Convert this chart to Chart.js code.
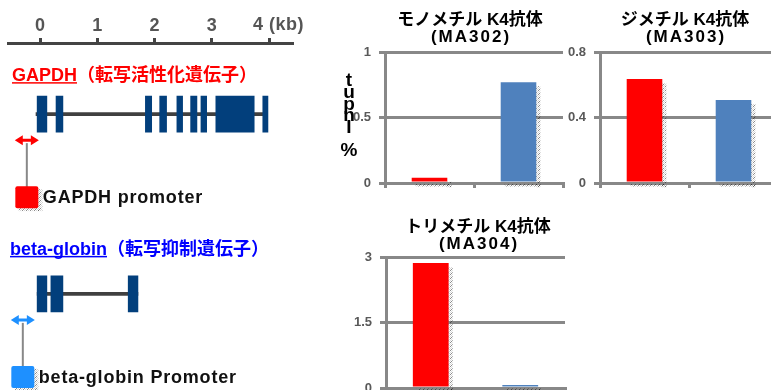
<!DOCTYPE html>
<html>
<head>
<meta charset="utf-8">
<script src="https://cdn.jsdelivr.net/npm/chart.js@4.4.1/dist/chart.umd.min.js"></script>
<style>
  html, body { margin: 0; padding: 0; background: #fff; }
  #stage { position: relative; width: 771px; height: 390px; overflow: hidden; background: #fff; }
  canvas { position: absolute; }
</style>
</head>
<body>
<div id="stage">
  <canvas id="geneMap" width="330" height="390" style="left:0;top:0"></canvas>
  <canvas id="monoChart" width="260" height="200" style="left:340px;top:0"></canvas>
  <canvas id="diChart" width="260" height="200" style="left:555px;top:0"></canvas>
  <canvas id="triChart" width="276" height="205" style="left:340px;top:200px"></canvas>
</div>
<script>
// ---- data ----
const kbTicks = [0, 1, 2, 3, 4];
const gapdhSpan = [-0.07, 3.91];
const gapdhExons = [[-0.05, 0.12], [0.28, 0.40], [1.84, 1.95], [2.09, 2.21], [2.39, 2.49],
                    [2.63, 2.74], [2.81, 2.91], [3.07, 3.74], [3.89, 3.98]];
const gapdhPromoter = [-0.44, -0.02];
const betaSpan = [-0.05, 1.71];
const betaExons = [[-0.05, 0.12], [0.19, 0.40], [1.54, 1.71]];
const betaPromoter = [-0.51, -0.09];

const categories = ['GAPDH promoter', 'beta-globin Promoter'];
const monoValues = [0.04, 0.77];
const diValues = [0.635, 0.507];
const triValues = [2.86, 0.07];
const yAxisTitle = 'Input %';

// ---- look ----
const FONT = '"Liberation Sans", "Noto Sans CJK JP", sans-serif';
const RED = '#FF0000';
const BLUE_BAR = '#4F81BD';
const AXIS_GRAY = '#888888';
const EXON = '#023F7C';

function makeShadowPattern(ctx) {
    const c = document.createElement('canvas');
    c.width = 4; c.height = 4;
    const p = c.getContext('2d');
    p.fillStyle = 'rgba(0,0,0,0.45)';
    p.fillRect(0, 0, 1, 1); p.fillRect(2, 2, 1, 1); p.fillRect(3, 1, 1, 1);
    p.fillStyle = 'rgba(140,140,140,0.35)';
    p.fillRect(2, 0, 1, 1); p.fillRect(1, 1, 1, 1); p.fillRect(0, 2, 1, 1); p.fillRect(1, 3, 1, 1); p.fillRect(3, 3, 1, 1);
    return ctx.createPattern(c, 'repeat');
}

// 1. GENE MAP (floating bars on a kb scale)
const genes = [
    { row: 0.205, exons: gapdhExons, span: gapdhSpan, promoter: gapdhPromoter, color: RED,
      name: 'GAPDH', note: '（転写活性化遺伝子）', nameColor: RED, labelX: 12, labelDy: -38,
      promoterLabel: categories[0] },
    { row: 0.723, exons: betaExons, span: betaSpan, promoter: betaPromoter, color: '#1E90FF',
      name: 'beta-globin', note: '（転写抑制遺伝子）', nameColor: '#0000FF', labelX: 10, labelDy: -44,
      promoterLabel: categories[1] }
];

function drawDoubleArrow(ctx, x0, x1, y, color) {
    const head = 8, hh = 5, sh = 1.5;
    ctx.fillStyle = color;
    ctx.beginPath();
    ctx.moveTo(x0, y);
    ctx.lineTo(x0 + head, y - hh);
    ctx.lineTo(x0 + head, y - sh);
    ctx.lineTo(x1 - head, y - sh);
    ctx.lineTo(x1 - head, y - hh);
    ctx.lineTo(x1, y);
    ctx.lineTo(x1 - head, y + hh);
    ctx.lineTo(x1 - head, y + sh);
    ctx.lineTo(x0 + head, y + sh);
    ctx.lineTo(x0 + head, y + hh);
    ctx.closePath();
    ctx.fill();
}

const genePlugin = {
    id: 'geneAnnotations',
    afterDraw(chart) {
        const ctx = chart.ctx;
        const xs = chart.scales.x, ys = chart.scales.y;
        const shadow = makeShadowPattern(ctx);
        ctx.save();
        // "4 (kb)" label
        ctx.font = 'bold 18px ' + FONT;
        ctx.fillStyle = '#555';
        ctx.textBaseline = 'middle';
        ctx.textAlign = 'left';
        ctx.letterSpacing = '0.5px';
        ctx.fillText('4 (kb)', xs.getPixelForValue(4) - 16, 25);

        genes.forEach(g => {
            const rowY = ys.getPixelForValue(g.row);
            const p0 = xs.getPixelForValue(g.promoter[0]);
            const p1 = xs.getPixelForValue(g.promoter[1]);
            const pc = (p0 + p1) / 2;

            // gene name
            ctx.font = 'bold 18px ' + FONT;
            ctx.letterSpacing = '0px';
            ctx.fillStyle = g.nameColor;
            ctx.textAlign = 'left';
            ctx.textBaseline = 'middle';
            const ly = rowY + g.labelDy;
            ctx.fillText(g.name, g.labelX, ly);
            const nw = ctx.measureText(g.name).width;
            ctx.fillRect(g.labelX, ly + 6, nw, 1.5);
            ctx.fillText(g.note, g.labelX + nw, ly);

            // promoter arrow, stem, box
            drawDoubleArrow(ctx, p0, p1, rowY + 26, g.color);
            ctx.strokeStyle = AXIS_GRAY;
            ctx.lineWidth = 2;
            ctx.beginPath();
            ctx.moveTo(pc, rowY + 29);
            ctx.lineTo(pc, rowY + 73);
            ctx.stroke();
            ctx.fillStyle = shadow;
            ctx.fillRect(pc + 11.5, rowY + 75, 4, 22);
            ctx.fillRect(pc - 8, rowY + 94, 20, 3);
            ctx.fillStyle = g.color;
            ctx.beginPath();
            ctx.roundRect(pc - 11.5, rowY + 72, 23, 22, 2);
            ctx.fill();

            ctx.font = 'bold 18px ' + FONT;
            ctx.letterSpacing = '0.8px';
            ctx.fillStyle = '#111';
            ctx.fillText(g.promoterLabel, pc + 16, rowY + 84);
        });
        ctx.restore();
    }
};

const exonData = [];
const intronData = [];
genes.forEach(g => {
    g.exons.forEach(e => exonData.push({ x: e, y: g.row }));
    intronData.push({ x: g.span, y: g.row });
});

new Chart(document.getElementById('geneMap'), {
    type: 'bar',
    data: {
        datasets: [
            { label: 'exon', data: exonData, backgroundColor: EXON, barThickness: 36, grouped: false, order: 1 },
            { label: 'intron', data: intronData, backgroundColor: '#404040', barThickness: 3, grouped: false, order: 2 }
        ]
    },
    options: {
        indexAxis: 'y',
        responsive: false,
        animation: false,
        layout: { padding: { left: 8.5, right: 38, top: 0, bottom: 0 } },
        scales: {
            x: {
                type: 'linear',
                position: 'top',
                min: -0.55,
                max: 4.4,
                ticks: {
                    stepSize: 1,
                    includeBounds: false,
                    color: '#555',
                    padding: 1,
                    font: { family: FONT, size: 18, weight: 'bold' },
                    callback: v => (kbTicks.includes(v) && v !== 4) ? String(v) : ''
                },
                grid: { drawOnChartArea: false, tickLength: 5, lineWidth: 3, color: '#444' },
                border: { color: '#444', width: 3 },
                afterFit: s => { s.height = 43; }
            },
            y: { type: 'linear', display: false, offset: false, min: 0, max: 1, reverse: true }
        },
        plugins: { legend: { display: false }, tooltip: { enabled: false } }
    },
    plugins: [genePlugin]
});

// 2. ANTIBODY BAR CHARTS
const chartDecor = {
    id: 'chartDecor',
    afterDatasetsDraw(chart) {
        const ctx = chart.ctx;
        const shadow = makeShadowPattern(ctx);
        ctx.save();
        ctx.fillStyle = shadow;
        chart.getDatasetMeta(0).data.forEach(bar => {
            const { x, y, base, width } = bar.getProps(['x', 'y', 'base', 'width'], true);
            ctx.fillRect(x + width / 2, y + 4, 4, base - y + 2);
            ctx.fillRect(x - width / 2 + 4, base + 2, width, 3);
        });
        ctx.restore();
    },
    afterDraw(chart, args, opts) {
        const ctx = chart.ctx;
        ctx.save();
        ctx.fillStyle = '#000';
        ctx.textAlign = 'center';
        ctx.textBaseline = 'middle';
        ctx.font = 'bold 17px ' + FONT;
        ctx.fillText(opts.lines[0], chart.width / 2, opts.titleY);
        ctx.letterSpacing = '2px';
        ctx.fillText(opts.lines[1], chart.width / 2 + 1, opts.titleY + 17);
        ctx.letterSpacing = '0px';
        if (opts.yTitle) {
            // vertical title rendered as stacked upright glyphs (as in the source figure)
            ctx.font = 'bold 19px ' + FONT;
            const [word, unit] = opts.yTitle.split(' ');
            const chars = word.split('').reverse().concat(['', unit]);
            chars.forEach((c, i) => ctx.fillText(c, 9, 81 + i * 11.7));
        }
        ctx.restore();
    }
};

function makeBarChart(id, lines, values, yMax, layout) {
    return new Chart(document.getElementById(id), {
        type: 'bar',
        data: {
            labels: categories,
            datasets: [{
                data: values,
                backgroundColor: [RED, BLUE_BAR],
                categoryPercentage: 1,
                barPercentage: 0.4
            }]
        },
        options: {
            responsive: false,
            animation: false,
            layout: { padding: layout.padding },
            scales: {
                x: {
                    ticks: { display: false },
                    grid: { offset: true, drawOnChartArea: false, tickLength: 5, lineWidth: 3, color: AXIS_GRAY },
                    border: { color: AXIS_GRAY, width: 3 },
                    afterFit: s => { s.height = 8; }
                },
                y: {
                    min: 0,
                    max: yMax,
                    ticks: {
                        stepSize: yMax / 2,
                        color: '#595959',
                        padding: 8,
                        font: { family: FONT, size: 13, weight: 'bold' },
                        callback: v => String(Math.round(v * 100) / 100)
                    },
                    grid: { color: AXIS_GRAY, lineWidth: 3, tickLength: 6 },
                    border: { color: AXIS_GRAY, width: 3 },
                    afterFit: s => { s.width = layout.axisWidth; }
                }
            },
            plugins: {
                legend: { display: false },
                tooltip: { enabled: false },
                chartDecor: { lines: lines, titleY: layout.titleY, yTitle: layout.yTitle }
            }
        },
        plugins: [chartDecor]
    });
}

makeBarChart('monoChart', ['モノメチル K4抗体', '(MA302)'], monoValues, 1,
    { padding: { left: 0, right: 37, top: 52, bottom: 9 }, axisWidth: 45, titleY: 20, yTitle: yAxisTitle });
makeBarChart('diChart', ['ジメチル K4抗体', '(MA303)'], diValues, 0.8,
    { padding: { left: 0, right: 37, top: 52, bottom: 9 }, axisWidth: 45, titleY: 20 });
makeBarChart('triChart', ['トリメチル K4抗体', '(MA304)'], triValues, 3,
    { padding: { left: 0, right: 51, top: 57, bottom: 9 }, axisWidth: 46, titleY: 27 });
</script>
</body>
</html>
